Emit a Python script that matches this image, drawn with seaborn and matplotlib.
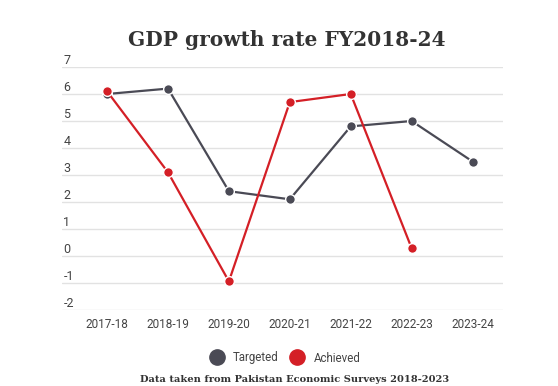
import matplotlib
matplotlib.use("Agg")
import matplotlib.pyplot as plt
import seaborn as sns
import pandas as pd
import numpy as np
from matplotlib.lines import Line2D

years = ["2017-18", "2018-19", "2019-20", "2020-21", "2021-22", "2022-23", "2023-24"]
targeted = [6.0, 6.2, 2.4, 2.1, 4.8, 5.0, 3.5]
achieved = [6.1, 3.1, -0.94, 5.7, 6.0, 0.29, np.nan]
yticks = [-2, -1, 0, 1, 2, 3, 4, 5, 6, 7]

title = "GDP growth rate FY2018-24"
caption = "Data taken from Pakistan Economic Surveys 2018-2023"
series_names = ["Targeted", "Achieved"]
colors = {"Targeted": "#4a4a55", "Achieved": "#d41f26"}

df = pd.DataFrame({
    "Year": years * 2,
    "Series": ["Targeted"] * len(years) + ["Achieved"] * len(years),
    "Growth": targeted + achieved,
}).dropna()

sns.set_theme(style="white")
plt.rcParams["font.family"] = ["Roboto", "DejaVu Sans"]

fig = plt.figure(figsize=(5.58, 3.86), dpi=100)
ax = fig.add_axes([62 / 558, (386 - 310) / 386, (503 - 62) / 558, (310 - 67) / 386])

sns.lineplot(data=df, x="Year", y="Growth", hue="Series", hue_order=series_names,
             palette=colors, marker="o", markersize=7, markeredgecolor="white",
             markeredgewidth=1.0, linewidth=1.6, ax=ax, legend=False, sort=False)

ax.set_ylim(-2, 7)
ax.set_xlim(-0.74, 6.5)
ax.set_yticks(yticks)
ax.set_yticklabels([str(t) for t in yticks])
ax.yaxis.grid(True, color="#e2e2e2", linewidth=1.0)
ax.set_axisbelow(True)
for s in ax.spines.values():
    s.set_visible(False)
ax.set_xlabel("")
ax.set_ylabel("")
ax.tick_params(axis="y", length=0, pad=-1, labelsize=9, labelcolor="#444444")
for lab in ax.get_yticklabels():
    lab.set_ha("left")
    lab.set_va("bottom")
ax.tick_params(axis="x", length=0, pad=6, labelsize=8.5, labelcolor="#444444")

fig.text(287 / 558, 1 - 40 / 386, title, ha="center", va="center", family="DejaVu Serif",
         fontweight="bold", fontsize=14.5, color="#333333")
fig.text(295 / 558, 1 - 380 / 386, caption, ha="center", va="center", family="DejaVu Serif",
         fontweight="bold", fontsize=7.1, color="#333333")

handles = [Line2D([], [], linestyle="", marker="o", markersize=11, color=colors[n],
                  markeredgecolor=colors[n]) for n in series_names]
fig.legend(handles, series_names, loc="center", bbox_to_anchor=(283 / 558, 1 - 358 / 386),
           ncol=2, frameon=False, fontsize=8.3, handletextpad=0.4, columnspacing=0.6,
           labelcolor="#444444")

fig.savefig("out.png", dpi=100, facecolor="white")
